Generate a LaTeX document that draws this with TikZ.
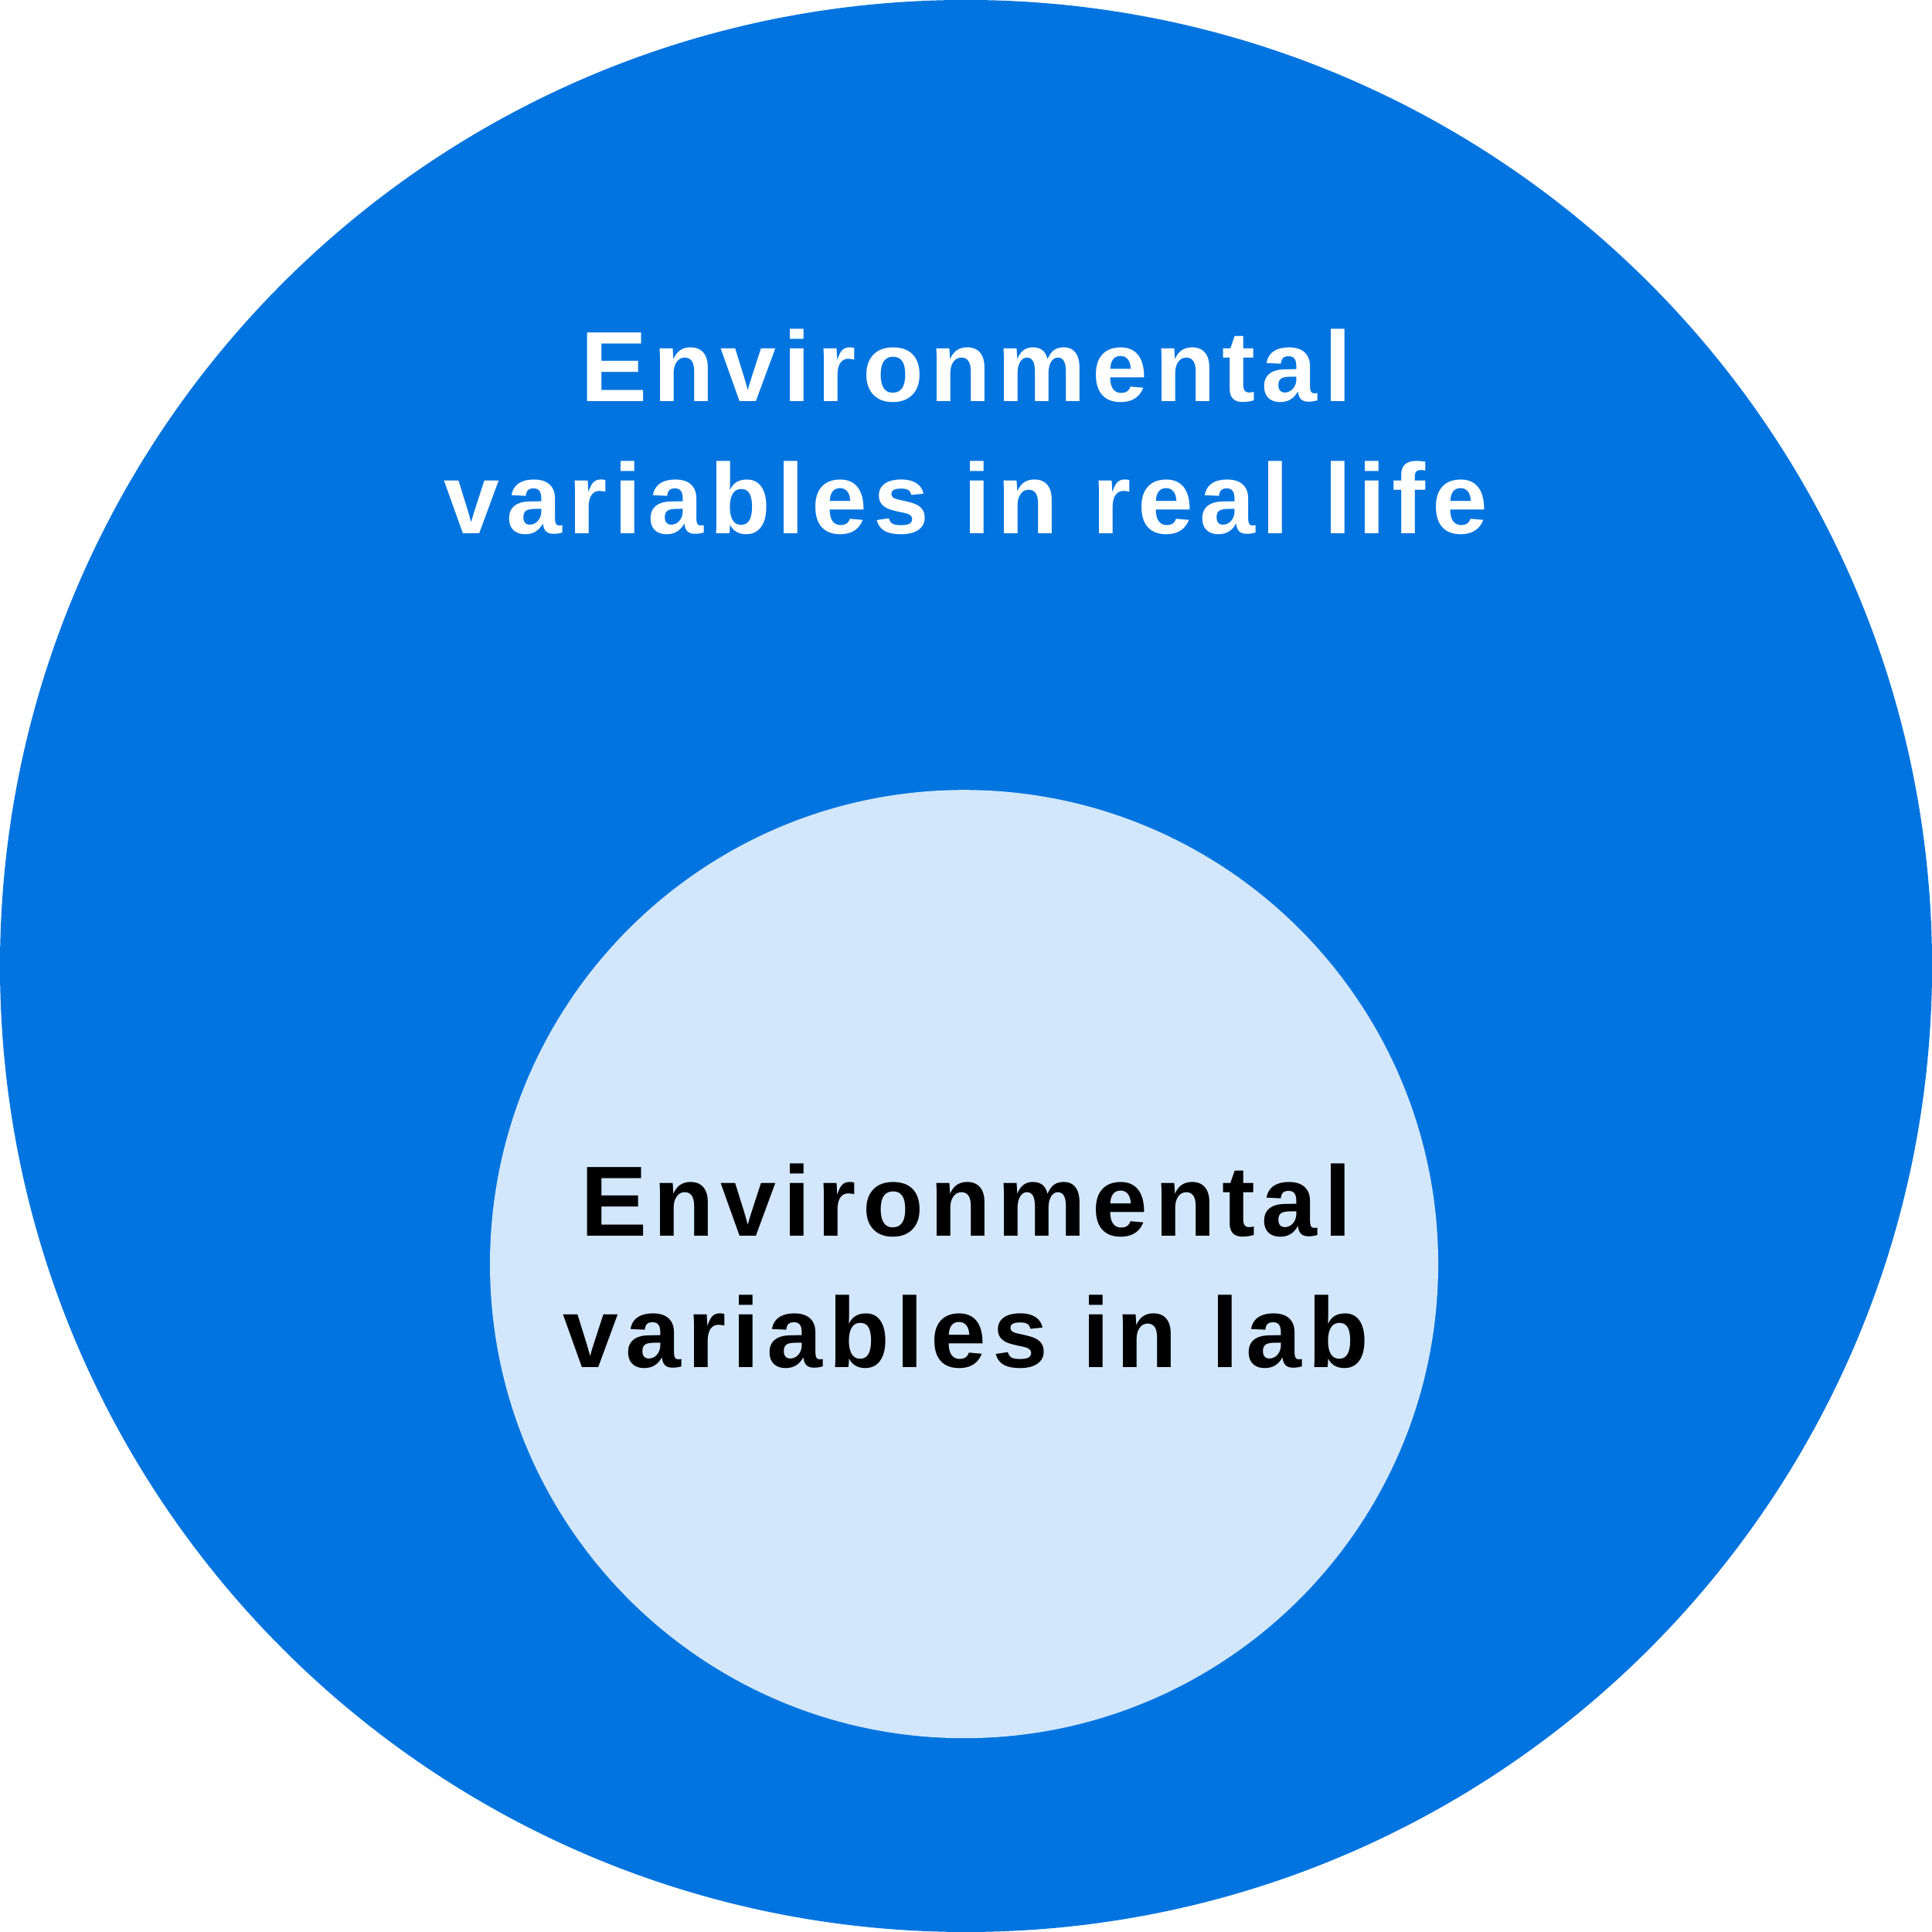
\documentclass[tikz,border=0pt]{standalone}
\usepackage{fontspec}
\setmainfont{Liberation Sans}[LetterSpace=6.5]
\usepackage{xcolor}
\definecolor{outerblue}{HTML}{0274E0}
\definecolor{innerblue}{HTML}{D2E7FC}
\usetikzlibrary{positioning}

\begin{document}
\begin{tikzpicture}[
        set_circle/.style={circle, draw=none, inner sep=0pt},
        real_label/.style={anchor=base, inner sep=0pt, text=white, font=\bfseries\fontsize{14.7}{17}\selectfont},
        lab_label/.style={anchor=base, inner sep=0pt, text=black, font=\bfseries\fontsize{14.7}{17}\selectfont}
    ]
    \useasboundingbox (0,0) rectangle (10,10);

    % Sets
    \node[set_circle, fill=outerblue, minimum size=10cm] (real) at (5,5) {};
    \node[set_circle, fill=innerblue, minimum size=4.908cm] (lab) at (4.99,3.457) {};

    % Labels
    \node[real_label] (realtop) at (5,7.921) {Environmental};
    \node[real_label] (realbot) at (5,7.238) {variables in real life};
    \node[lab_label] (labtop) at (5,3.603) {Environmental};
    \node[lab_label] (labbot) at (5,2.920) {variables in lab};

\end{tikzpicture}
\end{document}
